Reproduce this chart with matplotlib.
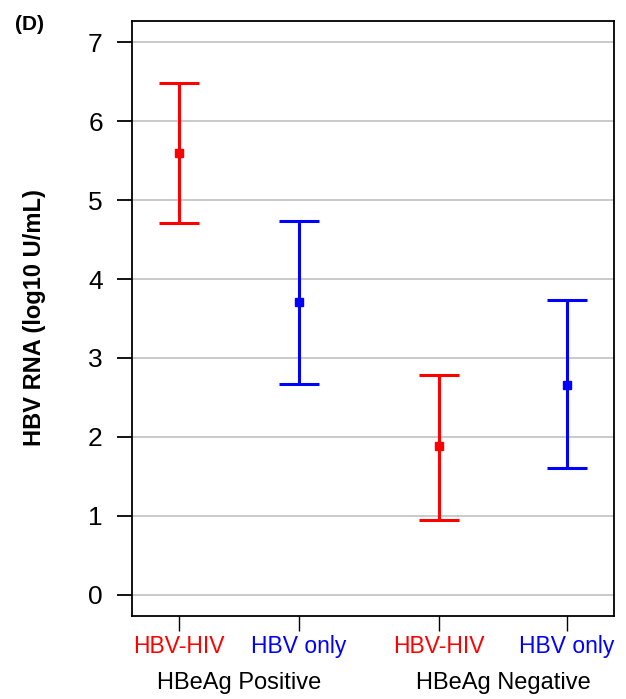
import matplotlib
matplotlib.use("Agg")
import matplotlib.pyplot as plt

plt.rcParams['font.family'] = ['Liberation Sans', 'DejaVu Sans']

tick_labels = ["HBV-HIV", "HBV only", "HBV-HIV", "HBV only"]
groups = ["HBeAg Positive", "HBeAg Negative"]
means = [5.60, 3.71, 1.88, 2.66]
upper = [6.48, 4.73, 2.78, 3.73]
lower = [4.71, 2.67, 0.95, 1.61]
colors = ["#ff0000", "#0000ff", "#ff0000", "#0000ff"]
positions = [1.0, 2.0, 3.167, 4.233]

fig = plt.figure(figsize=(6.26, 6.99), dpi=100)
ax = fig.add_axes([132/626, 1-616/699, (614-132)/626, (616-21)/699])

for x, m, u, l, c in zip(positions, means, upper, lower, colors):
    ax.errorbar([x], [m], yerr=[[m-l], [u-m]], fmt='s', color=c, ecolor=c,
                elinewidth=2.2, capsize=14.5, capthick=2.2, markersize=5.5, zorder=3)

ax.set_xlim(0.608, 4.625)
ax.set_ylim(-0.27, 7.27)
ax.set_yticks(range(0, 8))
ax.yaxis.grid(True, color='#c0c0c0', linewidth=1.2)
ax.set_axisbelow(True)
ax.set_xticks(positions)
ax.set_xticklabels(tick_labels, fontsize=16.5)
for t, c in zip(ax.get_xticklabels(), colors):
    t.set_color(c)
ax.tick_params(axis='y', labelsize=19, length=11, width=1.3, pad=10)
ax.tick_params(axis='x', length=11, width=1.0, pad=3)
for s in ax.spines.values():
    s.set_linewidth(1.3)

ax.set_ylabel("HBV RNA (log10 U/mL)", fontsize=17, fontweight='bold')
ax.yaxis.set_label_coords((46-132)/482, (616-317.5)/595)

for g, gx in zip(groups, [(positions[0]+positions[1])/2, (positions[2]+positions[3])/2]):
    ax.text(gx, -0.1126, g, transform=ax.get_xaxis_transform(), ha='center', va='center', fontsize=17)

fig.text(15/626, 1-24/699, "(D)", fontsize=15, fontweight='bold', ha='left', va='center')

fig.savefig("out.png", dpi=100)
